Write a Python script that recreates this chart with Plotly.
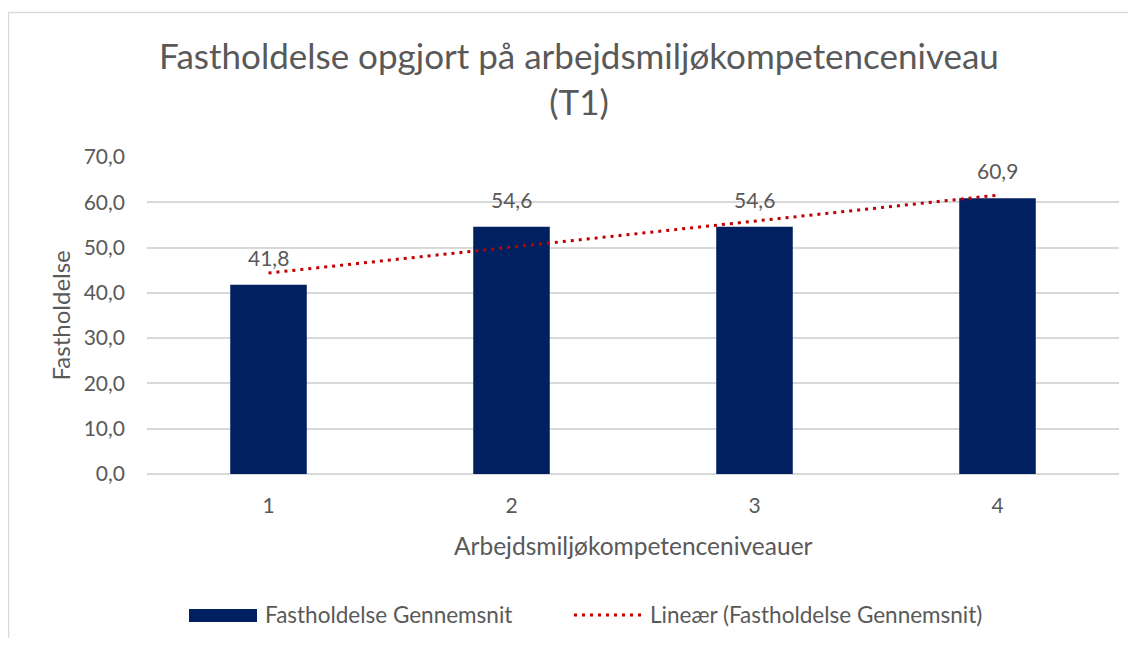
import numpy as np
import plotly.graph_objects as go

# ---- data ----
categories = [1, 2, 3, 4]
tick_labels = ["1", "2", "3", "4"]
values = [41.8, 54.6, 54.6, 60.9]
y_ticks = [0, 10, 20, 30, 40, 50, 60, 70]
series_name = "Fastholdelse Gennemsnit"
trend_name = "Lineær (Fastholdelse Gennemsnit)"
title_text = "Fastholdelse opgjort på arbejdsmiljøkompetenceniveau<br>(T1)"
x_title = "Arbejdsmiljøkompetenceniveauer"
y_title = "Fastholdelse"

# linear trendline (Excel "Lineær") from the data
xnum = np.array(categories, dtype=float)
slope, intercept = np.polyfit(xnum, values, 1)
trend = list(slope * xnum + intercept)

# page has an 8px body margin: work in figure coordinates = screen - 8,
# and keep the figure small enough to avoid scrollbars
OFF = 8
W, H = 1136 - 2 * OFF, 646 - 2 * OFF
L = 147 - OFF
R = W - (1119 - OFF)
T = 157 - OFF
B = H - (474 - OFF)
PW, PH = W - L - R, H - T - B

def px(x):
    return (x - OFF - L) / PW

def py(y):
    return (H - B - (y - OFF)) / PH

FONT = "Lato, Carlito, Calibri, sans-serif"
TXT = "#595959"
BAR = "#002060"
RED = "#C00000"
GRID = "#D9D9D9"

fig = go.Figure()
fig.add_trace(go.Bar(
    x=categories, y=values, name=series_name,
    marker=dict(color=BAR, line=dict(width=0)),
    width=0.315, showlegend=False,
))
fig.add_trace(go.Scatter(
    x=categories, y=trend, name=trend_name, mode="lines",
    line=dict(color=RED, width=3, dash="3px,5px"),
    showlegend=False,
))

annotations = []
for c, v in zip(categories, values):
    annotations.append(dict(
        x=c, y=v, xref="x", yref="y", text=f"{v:.1f}".replace(".", ","),
        showarrow=False, yanchor="bottom", yshift=13,
        font=dict(family=FONT, size=21, color=TXT),
    ))

# axis titles
annotations.append(dict(
    x=px(60), y=0.5, xref="paper", yref="paper", text=y_title,
    textangle=-90, showarrow=False, xanchor="center", yanchor="middle",
    font=dict(family=FONT, size=24, color=TXT),
))
annotations.append(dict(
    x=0.5, y=py(545), xref="paper", yref="paper", text=x_title,
    showarrow=False, xanchor="center", yanchor="middle",
    font=dict(family=FONT, size=24.5, color=TXT),
))
# legend texts
annotations.append(dict(
    x=px(263), y=py(614), xref="paper", yref="paper", text=series_name,
    showarrow=False, xanchor="left", yanchor="middle",
    font=dict(family=FONT, size=22.5, color=TXT),
))
annotations.append(dict(
    x=px(648), y=py(614), xref="paper", yref="paper", text=trend_name,
    showarrow=False, xanchor="left", yanchor="middle",
    font=dict(family=FONT, size=22.5, color=TXT),
))

shapes = [
    # chart border (top and left edges visible)
    dict(type="line", xref="paper", yref="paper",
         x0=px(7.5), x1=px(1200), y0=py(12.5), y1=py(12.5),
         line=dict(color=GRID, width=1.5), layer="below"),
    dict(type="line", xref="paper", yref="paper",
         x0=px(8.5), x1=px(8.5), y0=py(12), y1=py(700),
         line=dict(color=GRID, width=1.5), layer="below"),
    # legend swatch (bar)
    dict(type="rect", xref="paper", yref="paper",
         x0=px(189), x1=px(257), y0=py(609), y1=py(622),
         line=dict(width=0), fillcolor=BAR),
    # legend swatch (trend)
    dict(type="line", xref="paper", yref="paper",
         x0=px(574), x1=px(643), y0=py(615), y1=py(615),
         line=dict(color=RED, width=3, dash="3px,5px")),
]

fig.update_layout(
    width=W, height=H, autosize=False,
    margin=dict(l=L, r=R, t=T, b=B),
    paper_bgcolor="white", plot_bgcolor="white",
    separators=",.",
    title=dict(text=title_text, x=(579 - OFF) / W, xref="container",
               y=1 - (69 - OFF) / H, yref="container", xanchor="center", yanchor="middle",
               font=dict(family=FONT, size=35, color=TXT)),
    font=dict(family=FONT, color=TXT),
    xaxis=dict(range=[0.5, 4.5], tickvals=categories, ticktext=tick_labels,
               showgrid=False, showline=False, zeroline=False,
               ticks="", tickfont=dict(family=FONT, size=21, color=TXT),
               ticklabelstandoff=17),
    yaxis=dict(range=[0, 70], tickvals=y_ticks, tickformat=".1f",
               showgrid=True, gridcolor=GRID, gridwidth=1.5,
               zeroline=True, zerolinecolor=GRID, zerolinewidth=1.5,
               showline=False, ticks="",
               tickfont=dict(family=FONT, size=21, color=TXT),
               ticklabelstandoff=21),
    annotations=annotations,
    shapes=shapes,
)

fig.write_html("out.html")
